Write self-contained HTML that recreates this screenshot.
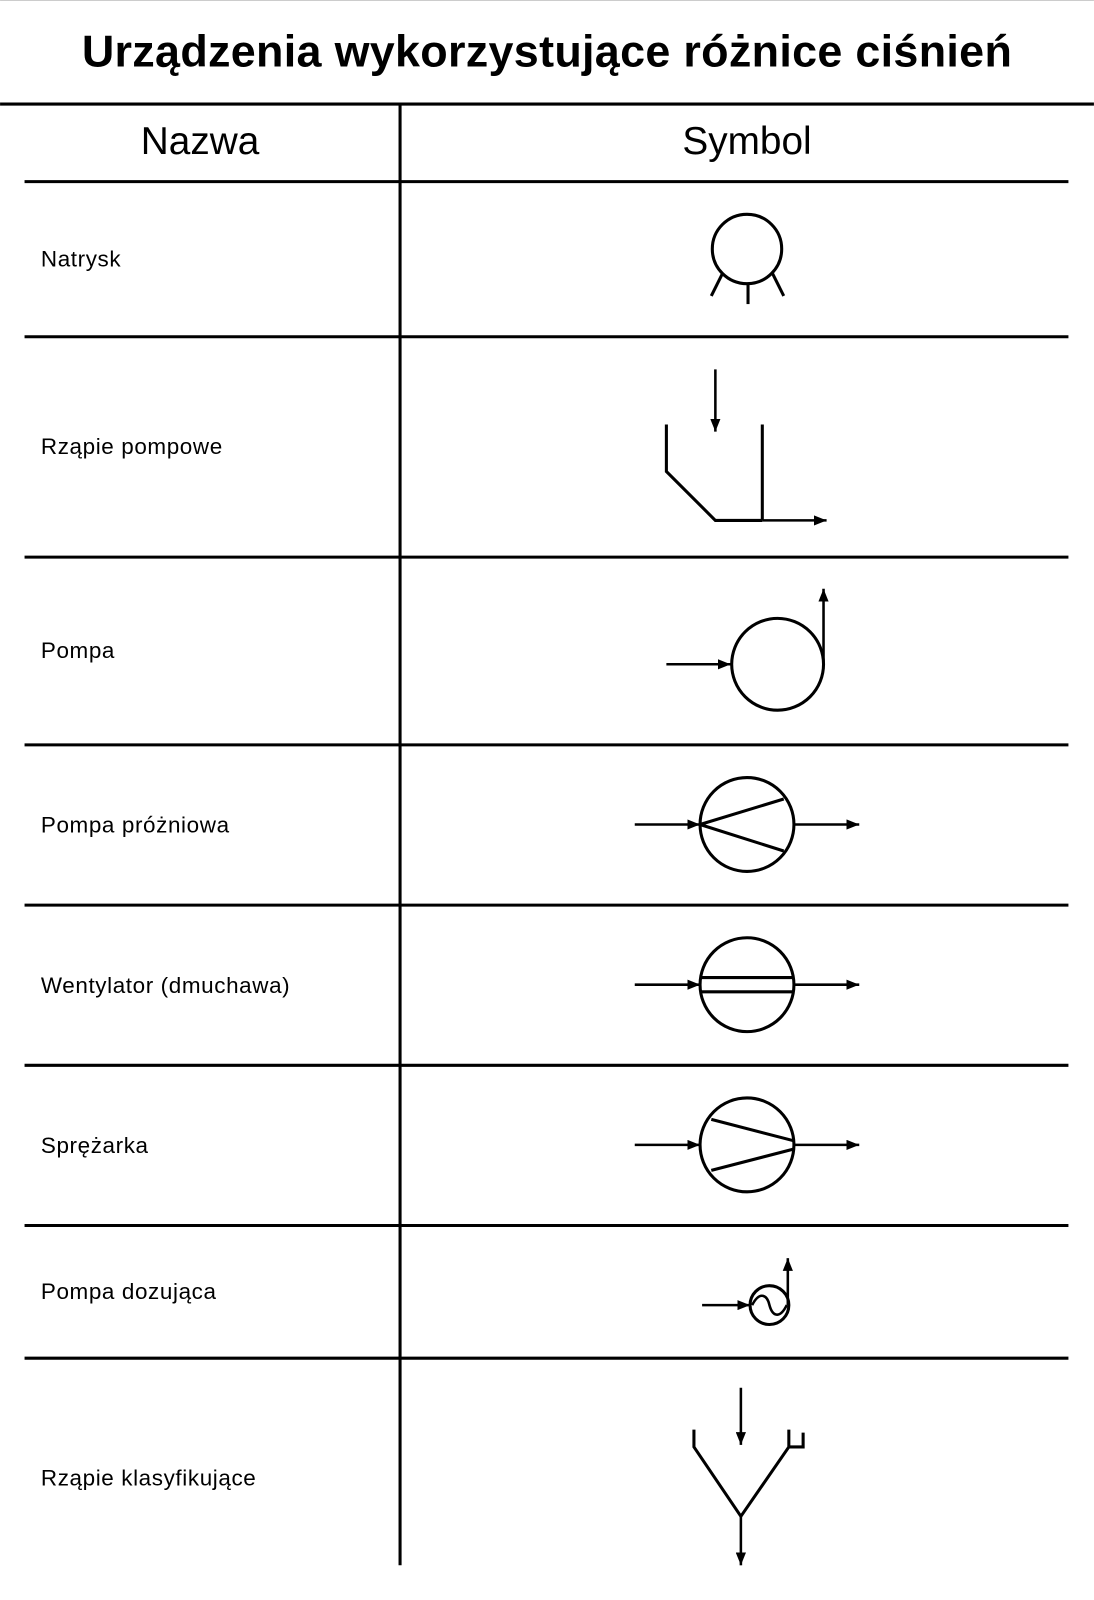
<!DOCTYPE html>
<html><head><meta charset="utf-8"><style>
html,body{margin:0;padding:0;background:#fff}
svg{display:block}
text{font-family:"Liberation Sans",sans-serif;fill:#000}
</style></head><body>
<svg width="1094" height="1600" viewBox="0 0 1072 1568" xmlns="http://www.w3.org/2000/svg">
<defs>
<marker id="a" viewBox="0 0 10 10" refX="10" refY="5" markerWidth="5" markerHeight="4" orient="auto" markerUnits="strokeWidth" preserveAspectRatio="none">
<path d="M0,0 L10,5 L0,10 z" fill="#000"/></marker>
</defs>
<line x1="0" y1="0.5" x2="1072" y2="0.5" stroke="#ccc" stroke-width="1"/>
<text x="536" y="65" font-size="44" font-weight="bold" text-anchor="middle" letter-spacing="0.3">Urządzenia wykorzystujące różnice ciśnień</text>
<g stroke="#000" stroke-width="3" fill="none">
<line x1="0" y1="102" x2="1072" y2="102"/>
<line x1="24" y1="178" x2="1047" y2="178"/>
<line x1="24" y1="330" x2="1047" y2="330"/>
<line x1="24" y1="546" x2="1047" y2="546"/>
<line x1="24" y1="730" x2="1047" y2="730"/>
<line x1="24" y1="887" x2="1047" y2="887"/>
<line x1="24" y1="1044" x2="1047" y2="1044"/>
<line x1="24" y1="1201" x2="1047" y2="1201"/>
<line x1="24" y1="1331" x2="1047" y2="1331"/>
<line x1="392" y1="102" x2="392" y2="1534"/>
</g>
<text x="196" y="151" font-size="38" text-anchor="middle">Nazwa</text>
<text x="732" y="151" font-size="38" text-anchor="middle">Symbol</text>
<g font-size="22" letter-spacing="0.6">
<text x="40" y="261">Natrysk</text>
<text x="40" y="445">Rząpie pompowe</text>
<text x="40" y="645">Pompa</text>
<text x="40" y="816">Pompa próżniowa</text>
<text x="40" y="973">Wentylator (dmuchawa)</text>
<text x="40" y="1130">Sprężarka</text>
<text x="40" y="1273">Pompa dozująca</text>
<text x="40" y="1456">Rząpie klasyfikujące</text>
</g>
<g stroke="#000" stroke-width="3" fill="none">
<circle cx="732" cy="244" r="34"/>
<line x1="708" y1="268" x2="697" y2="290"/>
<line x1="733" y1="278" x2="733" y2="298"/>
<line x1="757" y1="268" x2="768" y2="290"/>
<line x1="701" y1="362" x2="701" y2="423" stroke-width="2.5" marker-end="url(#a)"/>
<polyline points="653,416 653,462 701,510 747,510"/>
<line x1="747" y1="416" x2="747" y2="510"/>
<line x1="747" y1="510" x2="810" y2="510" stroke-width="2.5" marker-end="url(#a)"/>
<circle cx="762" cy="651" r="45"/>
<line x1="653" y1="651" x2="716" y2="651" stroke-width="2.5" marker-end="url(#a)"/>
<line x1="807" y1="651" x2="807" y2="577" stroke-width="2.5" marker-end="url(#a)"/>
<circle cx="732" cy="808" r="46"/>
<line x1="622" y1="808" x2="686" y2="808" stroke-width="2.5" marker-end="url(#a)"/>
<line x1="778" y1="808" x2="842" y2="808" stroke-width="2.5" marker-end="url(#a)"/>
<line x1="686" y1="808" x2="768" y2="783"/>
<line x1="686" y1="808" x2="768" y2="834"/>
<circle cx="732" cy="965" r="46"/>
<line x1="622" y1="965" x2="686" y2="965" stroke-width="2.5" marker-end="url(#a)"/>
<line x1="778" y1="965" x2="842" y2="965" stroke-width="2.5" marker-end="url(#a)"/>
<line x1="686" y1="958" x2="778" y2="958"/>
<line x1="686" y1="972" x2="778" y2="972"/>
<circle cx="732" cy="1122" r="46"/>
<line x1="622" y1="1122" x2="686" y2="1122" stroke-width="2.5" marker-end="url(#a)"/>
<line x1="778" y1="1122" x2="842" y2="1122" stroke-width="2.5" marker-end="url(#a)"/>
<line x1="697" y1="1097" x2="778" y2="1118"/>
<line x1="697" y1="1147" x2="778" y2="1126"/>
<circle cx="754" cy="1279" r="19"/>
<line x1="688" y1="1279" x2="735" y2="1279" stroke-width="2.5" marker-end="url(#a)"/>
<line x1="772" y1="1279" x2="772" y2="1233" stroke-width="2.5" marker-end="url(#a)"/>
<path d="M737,1279 C745,1264 752,1270 754,1279 C757,1290 764,1293 771,1279" stroke-width="2.5"/>
<line x1="726" y1="1360" x2="726" y2="1416" stroke-width="2.5" marker-end="url(#a)"/>
<polyline points="680,1401 680,1418 726,1486 773,1418 773,1401"/>
<polyline points="773,1418 787,1418 787,1404"/>
<line x1="726" y1="1486" x2="726" y2="1534" stroke-width="2.5" marker-end="url(#a)"/>
</g>
</svg>
</body></html>
